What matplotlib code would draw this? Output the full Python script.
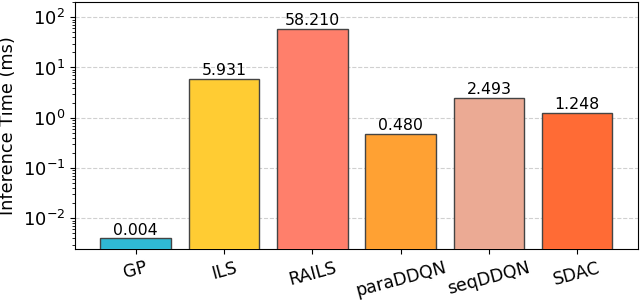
import numpy as np
import matplotlib.pyplot as plt

# data
methods = ["GP", "ILS", "RAILS", "paraDDQN", "seqDDQN", "SDAC"]
times_ms = [0.004, 5.931, 58.210, 0.480, 2.493, 1.248]
bar_colors = ["#2FB9D4", "#FFCC33", "#FF7F6B", "#FFA133", "#EBAA94", "#FF6B35"]

fig, ax = plt.subplots(figsize=(6.4, 3.0), dpi=100)
fig.subplots_adjust(left=0.117, right=0.997, top=0.993, bottom=0.17)

x = np.arange(len(methods))
bars = ax.bar(x, times_ms, width=0.8, color=bar_colors,
              edgecolor="#444444", linewidth=1.0, zorder=3)
ax.set_yscale("log")
ax.set_ylim(0.00245, 200)

for b, v in zip(bars, times_ms):
    ax.text(b.get_x() + b.get_width() / 2, v * 1.03, f"{v:.3f}",
            ha="center", va="bottom", fontsize=11.3)

ax.set_xticks(x)
ax.set_xticklabels(methods, rotation=15, fontsize=12.5)
ax.tick_params(axis="y", labelsize=13)
ax.set_ylabel("Inference Time (ms)", fontsize=12.8)
ax.yaxis.grid(True, which="major", linestyle="--", color="#d0d0d0",
              linewidth=0.8, zorder=0)

plt.savefig("out.png", dpi=100)
